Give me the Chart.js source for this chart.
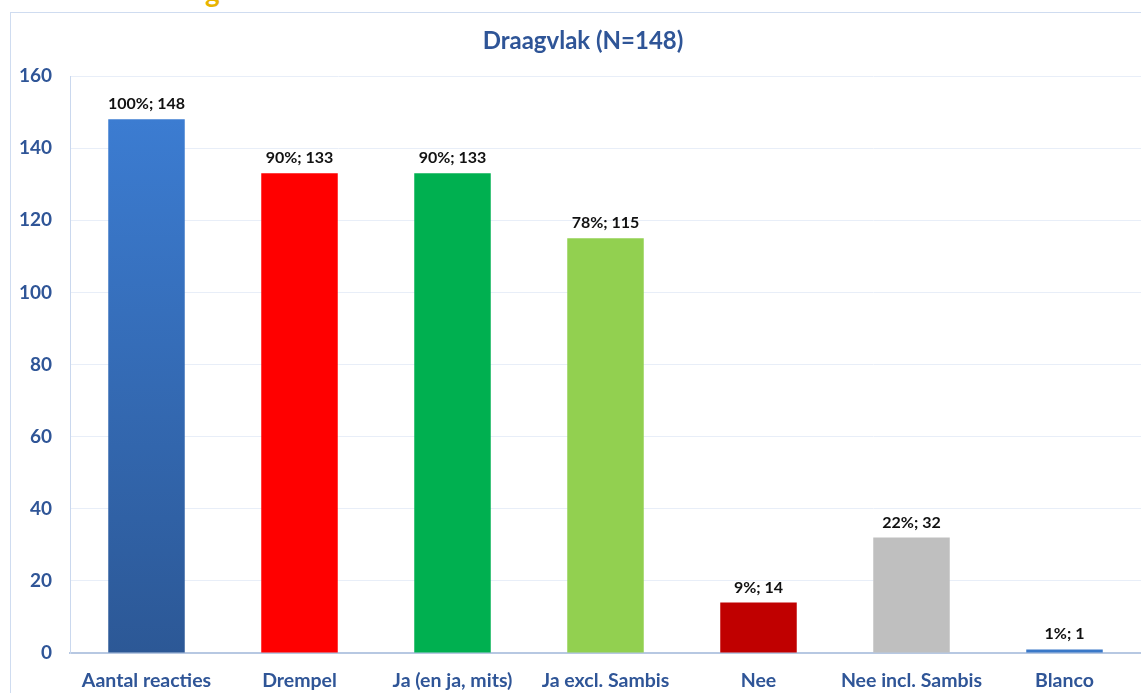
<!DOCTYPE html>
<html>
<head>
<meta charset="utf-8">
<script src="https://cdn.jsdelivr.net/npm/chart.js@4"></script>
<style>
  html, body { margin: 0; padding: 0; background: #fff; overflow: hidden; }
  #wrap { position: relative; width: 1141px; height: 693px; }
  #frame {
    position: absolute; left: 10px; top: 12px; width: 1200px; height: 800px;
    border: 1px solid #cfdcf0; box-sizing: border-box;
  }
  #head {
    position: absolute; left: 205px; top: -26px; margin: 0;
    font: bold 28px Lato, sans-serif; color: #e8b400;
  }
  canvas { position: absolute; left: 0; top: 0; }
</style>
</head>
<body>
<div id="wrap">
  <div id="frame"></div>
  <p id="head">g</p>
  <canvas id="myChart" width="1141" height="693"></canvas>
</div>
<script>
const categories = [
    "Aantal reacties", "Drempel", "Ja (en ja, mits)", "Ja excl. Sambis",
    "Nee", "Nee incl. Sambis", "Blanco"
];
const counts = [148, 133, 133, 115, 14, 32, 1];
const percents = ["100%", "90%", "90%", "78%", "9%", "22%", "1%"];
const barColors = ["#3b7bd0", "#ff0000", "#00b050", "#92d050", "#c00000", "#bfbfbf", "#3a78c8"];
const yTicks = [0, 20, 40, 60, 80, 100, 120, 140, 160];
const chartTitle = "Draagvlak (N=148)";

const axisBlue = '#2f5597';

// value labels above bars + title
const labelPlugin = {
    id: 'barLabels',
    afterDatasetsDraw(chart) {
        const { ctx } = chart;
        const meta = chart.getDatasetMeta(0);
        ctx.save();
        ctx.font = 'bold 16px Lato, sans-serif';
        ctx.fillStyle = '#111';
        ctx.textAlign = 'center';
        ctx.textBaseline = 'alphabetic';
        meta.data.forEach((bar, i) => {
            ctx.fillText(`${percents[i]}; ${counts[i]}`, bar.x, bar.y - 10);
        });
        ctx.font = 'bold 24px Lato, sans-serif';
        ctx.fillStyle = axisBlue;
        ctx.textBaseline = 'middle';
        ctx.fillText(chartTitle, 583, 41);
        ctx.restore();
    }
};

const ctx = document.getElementById('myChart').getContext('2d');
const chart = new Chart(ctx, {
    type: 'bar',
    data: {
        labels: categories,
        datasets: [{
            data: counts,
            backgroundColor: c => {
                const area = c.chart.chartArea;
                if (c.dataIndex === 0 && area) {
                    const g = c.chart.ctx.createLinearGradient(0, area.top, 0, area.bottom);
                    g.addColorStop(0, '#3d7fd6');
                    g.addColorStop(1, '#2c5896');
                    return g;
                }
                return barColors[c.dataIndex];
            },
            barPercentage: 0.5,
            categoryPercentage: 1
        }]
    },
    options: {
        responsive: false,
        animation: false,
        layout: { padding: { top: 76, right: 0, left: 0, bottom: 0 } },
        plugins: {
            legend: { display: false },
            tooltip: { enabled: false }
        },
        scales: {
            x: {
                grid: { display: false },
                border: { color: '#b7c8e2', width: 2 },
                ticks: {
                    color: axisBlue,
                    font: { family: 'Lato', size: 19.5, weight: 'bold' },
                    maxRotation: 0,
                    padding: 8
                },
                afterFit: s => { s.height = 40; }
            },
            y: {
                min: 0,
                max: 160,
                afterBuildTicks: s => { s.ticks = yTicks.map(v => ({ value: v })); },
                grid: { color: '#e8eef8', drawTicks: false },
                border: { color: '#cad8ee', width: 1 },
                ticks: {
                    color: axisBlue,
                    font: { family: 'Lato', size: 19, weight: 'bold' },
                    padding: 18
                },
                afterFit: s => { s.width = 70; }
            }
        }
    },
    plugins: [labelPlugin]
});
</script>
</body>
</html>
